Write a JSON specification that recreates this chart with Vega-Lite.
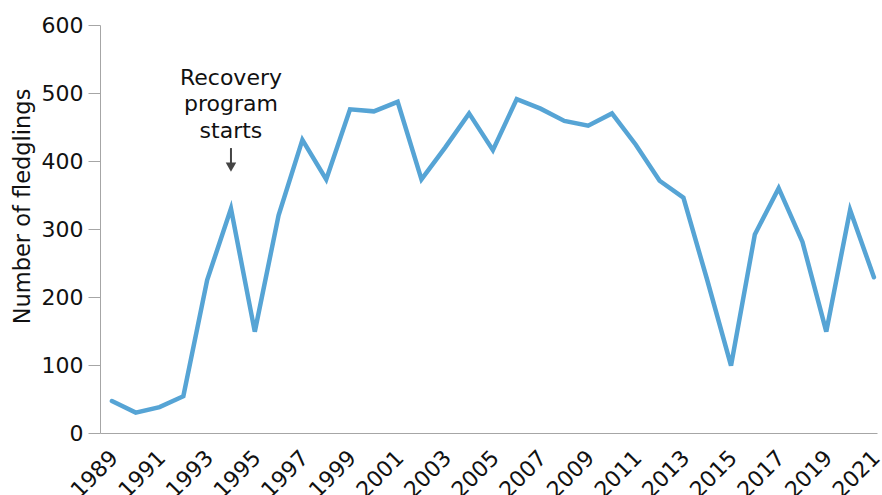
{
  "$schema": "https://vega.github.io/schema/vega-lite/v6.json",
  "width": 777,
  "height": 408,
  "autosize": {"type": "none"},
  "padding": {"left": 100, "top": 25, "right": 5, "bottom": 62},
  "background": "white",
  "config": {
    "view": {"stroke": null},
    "font": "DejaVu Sans",
    "axis": {"labelFont": "DejaVu Sans", "titleFont": "DejaVu Sans", "labelColor": "#111", "titleColor": "#111", "domainColor": "#a6a6a6", "tickColor": "#a6a6a6", "grid": false}
  },
  "datasets": {
    "fledglings": [
      {"year": 1989, "n": 47}, {"year": 1990, "n": 30}, {"year": 1991, "n": 38}, {"year": 1992, "n": 54},
      {"year": 1993, "n": 225}, {"year": 1994, "n": 330}, {"year": 1995, "n": 149}, {"year": 1996, "n": 320},
      {"year": 1997, "n": 431}, {"year": 1998, "n": 373}, {"year": 1999, "n": 476}, {"year": 2000, "n": 473},
      {"year": 2001, "n": 487}, {"year": 2002, "n": 373}, {"year": 2003, "n": 420}, {"year": 2004, "n": 470},
      {"year": 2005, "n": 416}, {"year": 2006, "n": 491}, {"year": 2007, "n": 477}, {"year": 2008, "n": 459},
      {"year": 2009, "n": 452}, {"year": 2010, "n": 470}, {"year": 2011, "n": 424}, {"year": 2012, "n": 371},
      {"year": 2013, "n": 346}, {"year": 2014, "n": 225}, {"year": 2015, "n": 99}, {"year": 2016, "n": 292},
      {"year": 2017, "n": 360}, {"year": 2018, "n": 281}, {"year": 2019, "n": 149}, {"year": 2020, "n": 328},
      {"year": 2021, "n": 229}
    ],
    "note": [{"year": 1994, "top": 419, "bottom": 392, "tip": 391, "texty": 512, "label": "Recovery\nprogram\nstarts"}]
  },
  "layer": [
    {
      "data": {"name": "fledglings"},
      "mark": {"type": "line", "color": "#56a4d5", "strokeWidth": 4.5, "strokeJoin": "miter", "strokeCap": "round"},
      "encoding": {
        "x": {"field": "year", "type": "quantitative", "scale": {"domain": [1988.5, 2021.13], "nice": false, "zero": false},
          "axis": {"title": null, "values": [1989,1991,1993,1995,1997,1999,2001,2003,2005,2007,2009,2011,2013,2015,2017,2019,2021], "format": "d", "labelAngle": -45, "labelFontSize": 22, "ticks": false, "labelPadding": 21, "labelOffset": 2, "labelAlign": "right", "labelBaseline": "middle", "labelFlush": false, "labelOverlap": false}},
        "y": {"field": "n", "type": "quantitative", "scale": {"domain": [0, 600], "nice": false},
          "axis": {"title": "Number of fledglings", "values": [0,100,200,300,400,500,600], "labelFontSize": 22, "titleFontSize": 22.5, "titleFontWeight": "normal", "tickSize": 12, "labelPadding": 5, "titlePadding": 7, "titleY": 181}}
      }
    },
    {
      "data": {"name": "note"},
      "mark": {"type": "rule", "color": "#444", "strokeWidth": 2},
      "encoding": {
        "x": {"field": "year", "type": "quantitative"},
        "y": {"field": "top", "type": "quantitative"},
        "y2": {"field": "bottom"}
      }
    },
    {
      "data": {"name": "note"},
      "mark": {"type": "point", "shape": "triangle-down", "filled": true, "color": "#444", "size": 110, "opacity": 1},
      "encoding": {
        "x": {"field": "year", "type": "quantitative"},
        "y": {"field": "tip", "type": "quantitative"}
      }
    },
    {
      "data": {"name": "note"},
      "mark": {"type": "text", "lineBreak": "\n", "fontSize": 22, "lineHeight": 26.5, "align": "center", "baseline": "alphabetic", "color": "#111"},
      "encoding": {
        "x": {"field": "year", "type": "quantitative"},
        "y": {"field": "texty", "type": "quantitative"},
        "text": {"field": "label"}
      }
    }
  ]
}
